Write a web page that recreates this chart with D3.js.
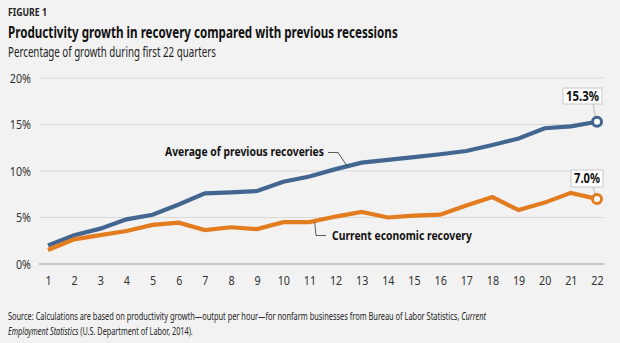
<!DOCTYPE html>
<html>
<head>
<meta charset="utf-8">
<script src="https://cdn.jsdelivr.net/npm/d3@7/dist/d3.min.js"></script>
<style>
  html, body { margin: 0; padding: 0; background: #f2f2f2; }
  svg { display: block; font-family: "Noto Sans", "Liberation Sans", sans-serif; }
</style>
</head>
<body>
<svg id="chart" width="620" height="343"></svg>
<script>
// Chart data
const quarters = d3.range(1, 23);
const averageRecoveries = [2.0, 3.1, 3.8, 4.8, 5.3, 6.4, 7.6, 7.7, 7.85, 8.85, 9.4,
  10.2, 10.9, 11.2, 11.5, 11.8, 12.15, 12.8, 13.5, 14.6, 14.8, 15.3];
const currentRecovery = [1.5, 2.65, 3.1, 3.55, 4.2, 4.45, 3.65, 3.95, 3.75, 4.5, 4.5,
  5.1, 5.6, 5.0, 5.2, 5.3, 6.3, 7.2, 5.8, 6.6, 7.65, 7.0];
const yTicks = [0, 5, 10, 15, 20];

const BLUE = '#436690';
const ORANGE = '#e27c1f';

const svg = d3.select('#chart');

// squeeze a text horizontally so it spans the given width (the original font is condensed)
function fit(sel, width) {
  const node = sel.node();
  const w = node.getComputedTextLength();
  const x0 = +sel.attr('x');
  const k = width / w;
  sel.attr('transform', `translate(${x0},0) scale(${k},1) translate(${-x0},0)`);
  return sel;
}

// Header texts
fit(svg.append('text').attr('x', 8).attr('y', 16)
  .attr('font-size', 10.5).attr('font-weight', 'bold').attr('fill', '#222')
  .text('FIGURE 1'), 39);
fit(svg.append('text').attr('x', 8).attr('y', 38)
  .attr('font-size', 16.5).attr('font-weight', 'bold').attr('fill', '#111')
  .text('Productivity growth in recovery compared with previous recessions'), 390);
fit(svg.append('text').attr('x', 8).attr('y', 57)
  .attr('font-size', 14.5).attr('fill', '#222')
  .text('Percentage of growth during first 22 quarters'), 208);

// Scales
const x = d3.scaleLinear().domain([1, 22]).range([48, 597]);
const y = d3.scaleLinear().domain([0, 20]).range([264, 78]);

// Gridlines
svg.append('g').selectAll('line')
  .data(yTicks)
  .enter().append('line')
  .attr('x1', 39).attr('x2', 604)
  .attr('y1', d => y(d)).attr('y2', d => y(d))
  .attr('stroke', d => d === 0 ? '#c6c6c6' : '#d8d8d8')
  .attr('stroke-width', d => d === 0 ? 2 : 1);

// Y axis labels
const yAxis = d3.axisLeft(y).tickValues(yTicks).tickFormat(d => d + '%').tickSize(0).tickPadding(0);
svg.append('g').attr('transform', 'translate(31,0)').call(yAxis)
  .call(g => g.select('.domain').remove())
  .selectAll('text')
  .attr('font-family', '"Noto Sans", sans-serif')
  .attr('font-size', 12.5).attr('fill', '#333')
  .attr('transform', 'scale(0.86,1)');

// X axis labels (each tick group is already translated to its x position)
const xAxis = d3.axisBottom(x).tickValues(quarters).tickFormat(d3.format('d')).tickSize(0).tickPadding(0);
svg.append('g').attr('transform', 'translate(0,276)').call(xAxis)
  .call(g => g.select('.domain').remove())
  .selectAll('text')
  .attr('font-family', '"Noto Sans", sans-serif')
  .attr('font-size', 12.5).attr('fill', '#333')
  .attr('transform', 'scale(0.86,1)');

// Lines
const line = d3.line().x((d, i) => x(quarters[i])).y(d => y(d));

[[averageRecoveries, BLUE], [currentRecovery, ORANGE]].forEach(([vals, color]) => {
  svg.append('path').datum(vals)
    .attr('d', line)
    .attr('fill', 'none')
    .attr('stroke', color)
    .attr('stroke-width', 4.2)
    .attr('stroke-linejoin', 'miter');
});

// Series annotations
const ann = svg.append('g').attr('font-weight', 'bold').attr('font-size', 13).attr('fill', '#111');
fit(ann.append('text').attr('x', 165).attr('y', 156).text('Average of previous recoveries'), 159);
fit(ann.append('text').attr('x', 332).attr('y', 240).text('Current economic recovery'), 140);

svg.append('path')
  .attr('d', `M328,152.5 L338,152.5 L${x(12.45)},${y(10.5)}`)
  .attr('fill', 'none').attr('stroke', '#333').attr('stroke-width', 0.8);
svg.append('path')
  .attr('d', `M326,235.5 L316,235.5 L${x(11.2)},${y(4.5)}`)
  .attr('fill', 'none').attr('stroke', '#333').attr('stroke-width', 0.8);

// End callouts
const last = quarters.length - 1;
const callouts = [
  { v: averageRecoveries[last], color: BLUE, x0: 563, y0: 88, w: 39, h: 16 },
  { v: currentRecovery[last], color: ORANGE, x0: 571, y0: 170, w: 32, h: 17 }
];
callouts.forEach(c => {
  const cx = x(quarters[last]), cy = y(c.v);
  svg.append('line')
    .attr('x1', cx - 4).attr('y1', c.y0 + c.h)
    .attr('x2', cx - 1.5).attr('y2', cy - 4)
    .attr('stroke', '#aaa').attr('stroke-width', 0.8);
  svg.append('rect')
    .attr('x', c.x0).attr('y', c.y0).attr('width', c.w).attr('height', c.h)
    .attr('fill', '#fff').attr('stroke', '#c8c8c8').attr('stroke-width', 1);
  const t = svg.append('text')
    .attr('x', c.x0 + 3).attr('y', c.y0 + c.h / 2 + 5)
    .attr('font-weight', 'bold').attr('font-size', 14)
    .attr('fill', '#111')
    .text(c.v.toFixed(1) + '%');
  fit(t, c.w - 6);
  svg.append('circle')
    .attr('cx', cx).attr('cy', cy).attr('r', 4.5)
    .attr('fill', '#fff').attr('stroke', c.color).attr('stroke-width', 3);
});

// Source note
const src = svg.append('text').attr('x', 8).attr('y', 320).attr('font-size', 11.5).attr('fill', '#222');
src.append('tspan')
  .text('Source: Calculations are based on productivity growth\u2014output per hour\u2014for nonfarm businesses from Bureau of Labor Statistics, ');
src.append('tspan').attr('font-style', 'italic').text('Current');
fit(src, 479);
const src2 = svg.append('text').attr('x', 8).attr('y', 335).attr('font-size', 11.5).attr('fill', '#222');
src2.append('tspan').attr('font-style', 'italic').text('Employment Statistics');
src2.append('tspan').text(' (U.S. Department of Labor, 2014).');
fit(src2, 185);
</script>
</body>
</html>
